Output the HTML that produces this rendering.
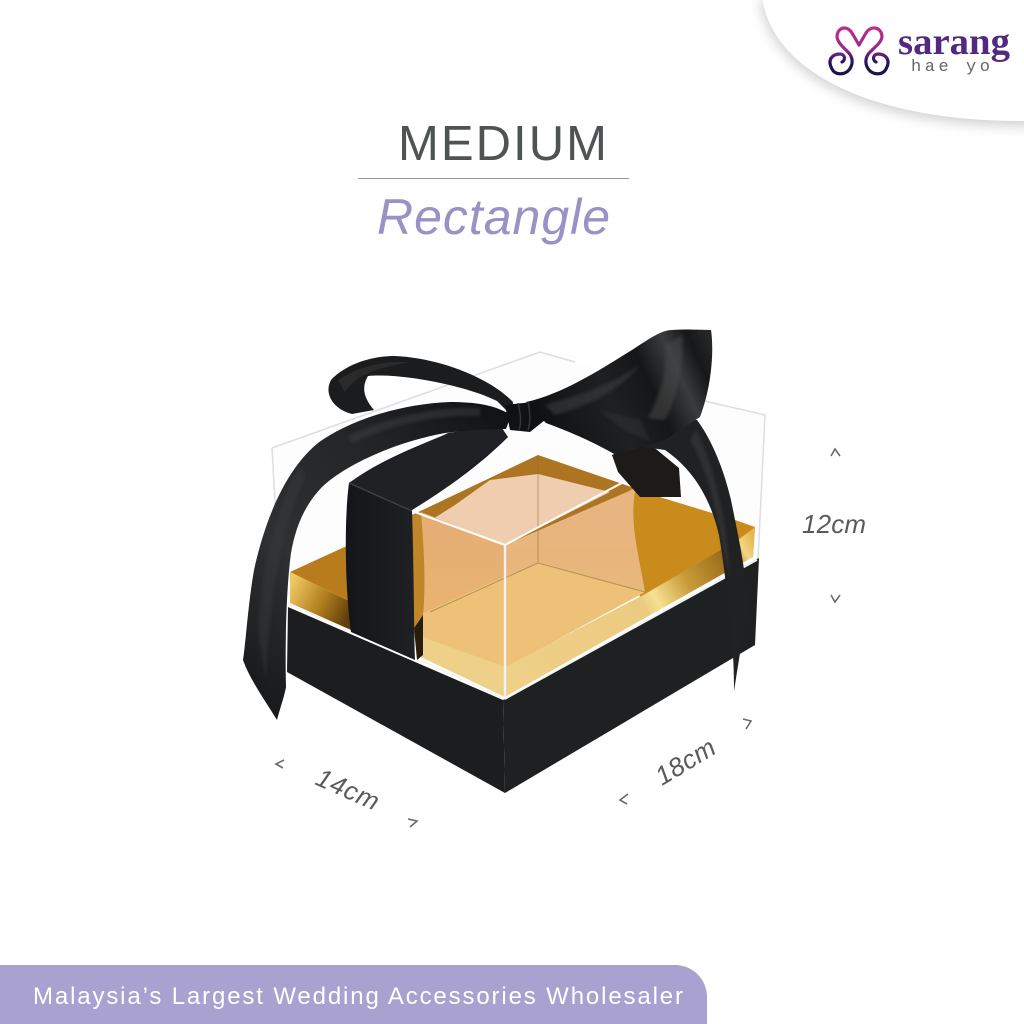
<!DOCTYPE html>
<html>
<head>
<meta charset="utf-8">
<style>
html,body{margin:0;padding:0;background:#fff}
svg{display:block}
text{font-family:"Liberation Sans",sans-serif}
</style>
</head>
<body>
<svg width="1024" height="1024" viewBox="0 0 1024 1024" xmlns="http://www.w3.org/2000/svg">
<defs>
<filter id="sh" x="-20%" y="-20%" width="140%" height="150%"><feGaussianBlur stdDeviation="7"/></filter>
<filter id="b1" x="-20%" y="-20%" width="140%" height="140%"><feGaussianBlur stdDeviation="1.5"/></filter>
<linearGradient id="swan" x1="0" y1="0" x2="0" y2="1"><stop offset="0" stop-color="#c02a8e"/><stop offset=".45" stop-color="#9a2a8c"/><stop offset=".72" stop-color="#2b1560"/><stop offset="1" stop-color="#1d1248"/></linearGradient>
<linearGradient id="rimR" gradientUnits="userSpaceOnUse" x1="505" y1="680" x2="755" y2="540"><stop offset="0" stop-color="#efd088"/><stop offset=".55" stop-color="#eccb80"/><stop offset=".6" stop-color="#f6e092"/><stop offset=".72" stop-color="#c99c3a"/><stop offset=".88" stop-color="#9a6c1a"/><stop offset=".95" stop-color="#f2d680"/><stop offset="1" stop-color="#e3b64e"/></linearGradient>
<linearGradient id="rimL" gradientUnits="userSpaceOnUse" x1="290" y1="585" x2="350" y2="615"><stop offset="0" stop-color="#efc964"/><stop offset=".55" stop-color="#b17c1d"/><stop offset="1" stop-color="#5e3d0c"/></linearGradient>
<linearGradient id="pL" x1="0" y1="0" x2="0" y2="1"><stop offset="0" stop-color="#e5ad76"/><stop offset="1" stop-color="#eab76c"/></linearGradient>
<linearGradient id="pR" x1="0" y1="0" x2="0" y2="1"><stop offset="0" stop-color="#e8b381"/><stop offset="1" stop-color="#e9bb76"/></linearGradient>
<linearGradient id="tail" gradientUnits="userSpaceOnUse" x1="250" y1="700" x2="510" y2="410"><stop offset="0" stop-color="#171819"/><stop offset=".35" stop-color="#2e3031"/><stop offset=".7" stop-color="#232426"/><stop offset="1" stop-color="#101112"/></linearGradient>
<linearGradient id="bow" gradientUnits="userSpaceOnUse" x1="540" y1="430" x2="715" y2="350"><stop offset="0" stop-color="#0f1011"/><stop offset=".4" stop-color="#1f2021"/><stop offset=".62" stop-color="#151617"/><stop offset=".78" stop-color="#3a3b3d"/><stop offset=".9" stop-color="#161718"/><stop offset="1" stop-color="#262728"/></linearGradient>
<linearGradient id="strap" x1="0" y1="0" x2="1" y2="0"><stop offset="0" stop-color="#141518"/><stop offset=".5" stop-color="#212226"/><stop offset="1" stop-color="#131416"/></linearGradient>
</defs>

<rect width="1024" height="1024" fill="#fff"/>

<!-- top right panel -->
<path d="M762,-5 C768,60 850,122 1024,122 L1040,122 L1040,-5 Z" fill="#000" opacity=".2" filter="url(#sh)" transform="translate(-1,3)"/>
<path d="M762,-5 C768,60 850,121 1024,121 L1040,121 L1040,-5 Z" fill="#fff"/>

<!-- logo -->
<g fill="none" stroke="url(#swan)" stroke-width="3.2" stroke-linecap="round" stroke-linejoin="round">
<path d="M859,45 L852,33 C847,25 838,27 837,36 C837,42 843,47 848,52 C853,57 854,65 848,71 C843,75 835,75 832,69 C827,60 832,54 840,54 C845,54 846,60 842,62"/>
<path d="M859,45 L866,33 C871,25 881,27 882,36 C882,42 875,47 870,52 C865,57 864,65 870,71 C875,75 883,75 886,69 C891,60 886,54 878,54 C873,54 872,60 876,62"/>
</g>
<text x="898" y="54" font-size="38" font-weight="700" fill="#52297f" textLength="112" lengthAdjust="spacingAndGlyphs" style="font-family:'Liberation Serif',serif">sarang</text>
<text x="911" y="71" font-size="17" fill="#666" textLength="79" style="font-family:'Liberation Mono',monospace">hae yo</text>

<!-- headings -->
<text x="398" y="160" font-size="49" fill="#505353" textLength="209">MEDIUM</text>
<rect x="358" y="178" width="271" height="1" fill="#9a9a9a"/>
<text x="377" y="234" font-size="50" font-style="italic" fill="#9a91c4" textLength="233">Rectangle</text>

<!-- back acrylic -->
<path d="M272,448 L540,352 L765,415 L758,560 L505,700 L290,573 Z" fill="#fdfdfd"/>
<path d="M272,448 L540,352 L575,362" fill="none" stroke="#dedee2" stroke-width="1.5"/>
<path d="M700,400 L765,415 L758,560" fill="none" stroke="#dedee2" stroke-width="1.5"/>
<path d="M272,448 L276,520" fill="none" stroke="#dedee2" stroke-width="1.5"/>

<!-- base box -->
<path d="M288,607 L503,700 L505,793 L287,672 Z" fill="#1c1d1f"/>
<path d="M503,700 L759,558 L755,645 L505,793 Z" fill="#1f2022"/>

<!-- gold tray : left outer -->
<path d="M290,572 L351,544 L351,602 Z" fill="#b97c1c"/>
<path d="M290,572 L351,602 L351,630 L290,603 Z" fill="url(#rimL)"/>

<!-- tray back wall & interior -->
<path d="M410,516 L538,455 L640,490 L505,545 Z" fill="#ad7521"/>
<path d="M428,522 L455,505 L490,480 L538,474 L610,492 L505,545 Z" fill="#f1cdb0"/>
<!-- far right gold floor -->
<path d="M630,488 L735,520 L755,527 L753,557 L640,600 Z" fill="#c88b1c"/>
<!-- left panel of acrylic -->
<path d="M421,512 L505,545 L505,668 L421,637 Z" fill="url(#pL)"/>
<!-- right panel of acrylic -->
<path d="M505,545 L636,488 C628,520 640,560 645,592 L505,668 Z" fill="url(#pR)"/>
<!-- floor -->
<path d="M423,613 L490,583 L539,563 L645,592 L505,667 L423,637 Z" fill="#eec179"/>
<!-- gold band -->
<path d="M423,637 L505,667 L645,594 L738,540 L755,527 L753,557 L505,697 L421,657 Z" fill="url(#rimR)"/>
<path d="M421,637 L505,667 L505,697 L421,657 Z" fill="#efd088"/>
<!-- left dark gold slice -->
<path d="M408,518 L421,512 C424,550 426,585 423,615 L414,628 Z" fill="#c0862a"/>
<path d="M414,628 L423,615 L423,655 L417,660 Z" fill="#2a1c0a"/>
<!-- interior lines -->
<path d="M538,455 L538,563 L430,612 M538,563 L645,592" fill="none" stroke="#8a6d3d" stroke-width="1" opacity=".55"/>

<!-- acrylic front edges -->
<path d="M505,545 L505,698" stroke="#f2f2f6" stroke-width="2.4"/>
<path d="M505,545 L412,511 M505,545 L650,468" fill="none" stroke="#fff" stroke-width="2"/>
<path d="M505,699 L757,560 M505,699 L420,660 M351,631 L288,604" fill="none" stroke="#f4f4f4" stroke-width="1.6"/>

<!-- strap -->
<path d="M449,433 C420,445 380,460 349,483 C344,520 345,590 351,632 L415,660 C414,640 414,570 412,510 C445,490 480,465 508,437 Z" fill="url(#strap)"/>
<path d="M412,510 C435,495 470,470 508,437 L500,425 L448,433 C415,450 380,462 349,483 Z" fill="#202124"/>
<path d="M349,483 L412,511" stroke="#45454a" stroke-width="1.2"/>

<!-- dark ribbon behind acrylic, right -->
<path d="M612,455 L645,440 L679,468 L681,497 L640,497 L618,472 Z" fill="#1c1b1a"/>

<!-- right tail -->
<path d="M630,420 L697,420 C712,440 724,470 731,500 C737,530 746,570 747,600 C747,625 743,645 740,653 L734,691 C734,668 733,650 731,630 C728,605 725,570 719,535 C711,500 694,470 665,450 L630,445 Z" fill="#202122"/>
<path d="M690,440 C708,470 716,510 722,545 L730,580 C728,530 716,470 696,430 Z" fill="#3a3b3c" opacity=".6" filter="url(#b1)"/>

<!-- left tail -->
<path d="M511,415 C495,405 476,402 450,402 C400,404 350,420 318,443 C285,470 265,520 254,570 C248,605 246,640 243,660 C250,680 265,700 277,720 C280,708 284,698 286,687 C285,650 286,590 291,553 C296,525 305,505 322,487 C345,465 395,442 445,433 C470,430 490,429 506,429 Z" fill="url(#tail)"/>
<path d="M300,465 C275,510 262,570 258,630 L266,680 C268,610 280,530 305,478 Z" fill="#3a3b3d" opacity=".45" filter="url(#b1)"/>
<path d="M350,440 C390,420 440,410 480,412" fill="none" stroke="#3e3f41" stroke-width="8" opacity=".5" filter="url(#b1)"/>

<!-- left loop -->
<path d="M513,402 C490,378 440,358 395,356 C370,356 345,365 331,380 C323,395 335,410 352,414 L374,410 C364,398 361,388 368,376 C400,373 465,385 497,401 L512,416 Z" fill="#1b1c1d"/>
<path d="M338,380 C358,366 385,361 410,362 C380,368 358,372 345,392 Z" fill="#303132" opacity=".7"/>

<!-- right bow -->
<path d="M526,402 C560,395 600,370 627,353 C645,342 660,330 672,330 C688,329 700,330 711,330 C714,350 712,385 700,417 L665,440 L616,455 C590,440 565,430 546,423 Z" fill="url(#bow)"/>
<path d="M665,345 C668,370 660,395 648,418 L665,420 C678,395 684,365 682,335 Z" fill="#48494a" opacity=".55" filter="url(#b1)"/>
<path d="M545,405 C580,395 610,385 640,365 C620,390 590,405 555,415 Z" fill="#3e3f40" opacity=".55" filter="url(#b1)"/>
<path d="M600,410 C615,425 630,435 650,440 L640,420 Z" fill="#333435" opacity=".5" filter="url(#b1)"/>

<!-- knot -->
<path d="M505,405 L533,402 L545,420 L530,432 L510,430 Z" fill="#101112"/>
<path d="M518,403 C520,412 522,422 519,430 M528,402 C530,412 531,422 528,430" stroke="#36373a" stroke-width="1.4" fill="none"/>

<!-- dimensions -->
<g fill="none" stroke="#6a6a6a" stroke-width="1.6">
<path d="M831,456 L835,449 L840,456"/>
<path d="M831,595 L835,602 L840,595"/>
<path d="M284,760 L276,764 L283,768"/>
<path d="M408,819 L417,821 L410,827"/>
<path d="M628,794 L620,800 L627,804"/>
<path d="M743,719 L751,721 L746,729"/>
</g>
<text x="802" y="533" font-size="26" font-style="italic" fill="#5a5a5a" textLength="64">12cm</text>
<text transform="translate(314,784) rotate(24)" font-size="26" font-style="italic" fill="#5a5a5a" textLength="66">14cm</text>
<text transform="translate(662,786) rotate(-31)" font-size="26" font-style="italic" fill="#5a5a5a" textLength="65">18cm</text>

<!-- footer -->
<path d="M0,965 L675,965 A32,32 0 0 1 707,997 L707,1024 L0,1024 Z" fill="#a9a1d0"/>
<text x="33" y="1004" font-size="24" fill="#fff" textLength="650">Malaysia’s Largest Wedding Accessories Wholesaler</text>
</svg>
</body>
</html>
